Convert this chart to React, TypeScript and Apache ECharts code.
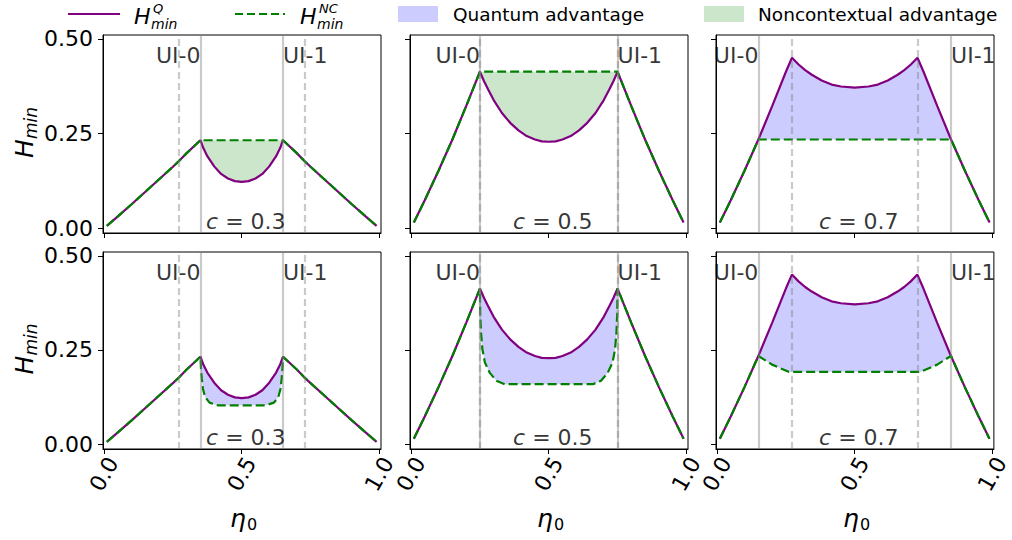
import { useEffect, useRef } from 'react';
import * as echarts from 'echarts';

// ---- data ----
const cText = ['0.3', '0.5', '0.7'];
const xTicks = [0, 0.5, 1];
const yTicks = [0, 0.25, 0.5];

// quantum curves H^Q_min (same in both rows)
const qEta03 = [0.01, 0.05, 0.1, 0.15, 0.2, 0.25, 0.272, 0.3, 0.35, 0.36, 0.375, 0.4, 0.425, 0.45, 0.475, 0.5, 0.525, 0.55, 0.575, 0.6, 0.625, 0.64, 0.65, 0.7, 0.728, 0.75, 0.8, 0.85, 0.9, 0.95, 0.99];
const qH03 = [0.006, 0.031, 0.063, 0.096, 0.129, 0.162, 0.177, 0.198, 0.232, 0.212, 0.19, 0.163, 0.143, 0.131, 0.124, 0.122, 0.124, 0.131, 0.143, 0.163, 0.19, 0.212, 0.232, 0.198, 0.177, 0.162, 0.129, 0.096, 0.063, 0.031, 0.006];
const qEta05 = [0.01, 0.05, 0.1, 0.15, 0.2, 0.25, 0.265, 0.28, 0.3, 0.33, 0.36, 0.39, 0.42, 0.45, 0.475, 0.5, 0.525, 0.55, 0.58, 0.61, 0.64, 0.67, 0.7, 0.72, 0.735, 0.75, 0.8, 0.85, 0.9, 0.95, 0.99];
const qH05 = [0.0145, 0.074, 0.152, 0.234, 0.322, 0.413, 0.388, 0.366, 0.338, 0.304, 0.278, 0.258, 0.243, 0.234, 0.229, 0.228, 0.229, 0.234, 0.243, 0.258, 0.278, 0.304, 0.338, 0.366, 0.388, 0.413, 0.322, 0.234, 0.152, 0.074, 0.0145];
const qEta07 = [0.01, 0.05, 0.1, 0.15, 0.2, 0.25, 0.272, 0.296, 0.32, 0.344, 0.38, 0.416, 0.45, 0.5, 0.55, 0.584, 0.62, 0.656, 0.68, 0.704, 0.728, 0.75, 0.8, 0.85, 0.9, 0.95, 0.99];
const qH07 = [0.0145, 0.074, 0.152, 0.234, 0.322, 0.413, 0.45, 0.432, 0.417, 0.405, 0.39, 0.379, 0.374, 0.371, 0.374, 0.379, 0.39, 0.405, 0.417, 0.432, 0.45, 0.413, 0.322, 0.234, 0.152, 0.074, 0.0145];

// noncontextual curves H^NC_min, top row
const ncTopEta03 = [0.01, 0.05, 0.1, 0.15, 0.2, 0.25, 0.272, 0.3, 0.35, 0.65, 0.7, 0.728, 0.75, 0.8, 0.85, 0.9, 0.95, 0.99];
const ncTopH03 = [0.006, 0.031, 0.063, 0.096, 0.129, 0.162, 0.177, 0.198, 0.232, 0.232, 0.198, 0.177, 0.162, 0.129, 0.096, 0.063, 0.031, 0.006];
const ncTopEta05 = [0.01, 0.05, 0.1, 0.15, 0.2, 0.25, 0.75, 0.8, 0.85, 0.9, 0.95, 0.99];
const ncTopH05 = [0.0145, 0.074, 0.152, 0.234, 0.322, 0.413, 0.413, 0.322, 0.234, 0.152, 0.074, 0.0145];
const ncTopEta07 = [0.01, 0.05, 0.1, 0.15, 0.85, 0.9, 0.95, 0.99];
const ncTopH07 = [0.0145, 0.074, 0.152, 0.234, 0.234, 0.152, 0.074, 0.0145];

// noncontextual curves H^NC_min, bottom row
const ncBotEta03 = [0.01, 0.05, 0.1, 0.15, 0.2, 0.25, 0.272, 0.3, 0.35, 0.352, 0.355, 0.359, 0.367, 0.383, 0.413, 0.587, 0.617, 0.633, 0.641, 0.645, 0.648, 0.65, 0.7, 0.728, 0.75, 0.8, 0.85, 0.9, 0.95, 0.99];
const ncBotH03 = [0.006, 0.031, 0.063, 0.096, 0.129, 0.162, 0.177, 0.198, 0.232, 0.2, 0.173, 0.147, 0.125, 0.11, 0.103, 0.103, 0.11, 0.125, 0.147, 0.173, 0.2, 0.232, 0.198, 0.177, 0.162, 0.129, 0.096, 0.063, 0.031, 0.006];
const ncBotEta05 = [0.01, 0.05, 0.1, 0.15, 0.2, 0.25, 0.251, 0.254, 0.259, 0.268, 0.286, 0.31, 0.34, 0.66, 0.69, 0.714, 0.732, 0.741, 0.746, 0.749, 0.75, 0.8, 0.85, 0.9, 0.95, 0.99];
const ncBotH05 = [0.0145, 0.074, 0.152, 0.234, 0.322, 0.413, 0.348, 0.296, 0.252, 0.217, 0.189, 0.168, 0.159, 0.159, 0.168, 0.189, 0.217, 0.252, 0.296, 0.348, 0.413, 0.322, 0.234, 0.152, 0.074, 0.0145];
const ncBotEta07 = [0.01, 0.05, 0.1, 0.15, 0.2, 0.26, 0.74, 0.8, 0.85, 0.9, 0.95, 0.99];
const ncBotH07 = [0.0145, 0.074, 0.152, 0.234, 0.211, 0.192, 0.192, 0.211, 0.234, 0.152, 0.074, 0.0145];

// UI reference lines and fill kinds
const solidUI = [[0.35, 0.65], [0.25, 0.75], [0.15, 0.85]];
const dashedUI = [[0.272, 0.728], [0.25, 0.75], [0.272, 0.728]];
const topFillKind = ['nc', 'nc', 'q'];
const bottomFillKind = ['q', 'q', 'q'];

// ---- styles / layout ----
const FONT = 'DejaVu Sans';
const PURPLE = '#800080';
const GREEN = '#008000';
const QFILL = '#ccccff';
const NCFILL = '#cce6cc';
const VLINE = 'rgba(128,128,128,0.42)';
const colLeft = [103, 410, 716];
const colWidth = 278;
const rowTop = [35, 252];
const rowHeight = [198, 197];
const X_MIN = -0.004, X_MAX = 1.006, Y_MIN = -0.013, Y_MAX = 0.51;
const TICK_FS = 22;
const TEXT_FS = 22;

const zip = (xs: number[], ys: number[]) => xs.map((x, i) => [x, ys[i]]);

export default function App() {
  const ref = useRef<HTMLDivElement>(null);
  useEffect(() => {
    const chart = echarts.init(ref.current as HTMLDivElement, null, { renderer: 'svg' });
    const qCurves = [zip(qEta03, qH03), zip(qEta05, qH05), zip(qEta07, qH07)];
    const ncCurves = [
      [zip(ncTopEta03, ncTopH03), zip(ncTopEta05, ncTopH05), zip(ncTopEta07, ncTopH07)],
      [zip(ncBotEta03, ncBotH03), zip(ncBotEta05, ncBotH05), zip(ncBotEta07, ncBotH07)],
    ];
    const fillKinds = [topFillKind, bottomFillKind];

    const grids: any[] = [];
    const xAxes: any[] = [];
    const yAxes: any[] = [];
    const series: any[] = [];

    for (let r = 0; r < 2; r++) {
      for (let c = 0; c < 3; c++) {
        const idx = r * 3 + c;
        grids.push({
          left: colLeft[c], top: rowTop[r], width: colWidth, height: rowHeight[r],
          show: true, borderColor: '#000', borderWidth: 1, backgroundColor: 'transparent',
        });
        xAxes.push({
          type: 'value', gridIndex: idx, min: X_MIN, max: X_MAX,
          axisLine: { show: true, onZero: false, lineStyle: { color: '#000', width: 1 } },
          axisTick: { show: true, inside: false, length: 5, customValues: xTicks, lineStyle: { color: '#000', width: 1 } },
          axisLabel: {
            show: r === 1, customValues: xTicks, rotate: 60, align: 'center', verticalAlign: 'middle',
            margin: 25, fontSize: TICK_FS, fontFamily: FONT, color: '#000',
            formatter: (v: number) => v.toFixed(1),
          },
          splitLine: { show: false },
        });
        yAxes.push({
          type: 'value', gridIndex: idx, min: Y_MIN, max: Y_MAX,
          axisLine: { show: true, onZero: false, lineStyle: { color: '#000', width: 1 } },
          axisTick: { show: true, inside: false, length: 5, customValues: yTicks, lineStyle: { color: '#000', width: 1 } },
          axisLabel: {
            show: c === 0, customValues: yTicks, margin: 10, fontSize: TICK_FS, fontFamily: FONT, color: '#000',
            formatter: (v: number) => v.toFixed(2),
          },
          splitLine: { show: false },
        });

        // vertical UI lines
        series.push({
          type: 'line', xAxisIndex: idx, yAxisIndex: idx, z: 1, silent: true,
          data: [[0.5, 0.2]], symbol: 'none', lineStyle: { opacity: 0 },
          markLine: {
            silent: true, symbol: ['none', 'none'], label: { show: false },
            lineStyle: { color: VLINE, width: 2.2, type: 'solid' },
            data: [
              ...solidUI[c].map((v) => ({ xAxis: v, lineStyle: { color: VLINE, width: 2.2, type: 'solid' } })),
              ...dashedUI[c].map((v) => ({ xAxis: v, lineStyle: { color: VLINE, width: 2.2, type: [7, 4] } })),
            ],
          },
        });

        // fill between curves
        const lo = solidUI[c][0] - 1e-6, hi = solidUI[c][1] + 1e-6;
        const qSeg = qCurves[c].filter((p) => p[0] >= lo && p[0] <= hi);
        const ncSeg = ncCurves[r][c].filter((p) => p[0] >= lo && p[0] <= hi);
        const kind = fillKinds[r][c];
        const upper = kind === 'q' ? qSeg : ncSeg;
        const lower = kind === 'q' ? ncSeg : qSeg;
        const fillColor = kind === 'q' ? QFILL : NCFILL;
        series.push({
          type: 'custom', xAxisIndex: idx, yAxisIndex: idx, z: 2, silent: true,
          data: [[0.5, 0.2]],
          renderItem: (_p: any, api: any) => {
            const pts = upper.map((p) => api.coord(p)).concat(lower.slice().reverse().map((p) => api.coord(p)));
            return { type: 'polygon', shape: { points: pts }, style: { fill: fillColor } };
          },
        });

        series.push({
          type: 'line', xAxisIndex: idx, yAxisIndex: idx, z: 3, silent: true,
          data: qCurves[c], symbol: 'none', lineStyle: { color: PURPLE, width: 2.2 },
        });
        series.push({
          type: 'line', xAxisIndex: idx, yAxisIndex: idx, z: 4, silent: true,
          data: ncCurves[r][c], symbol: 'none', lineStyle: { color: GREEN, width: 2.2, type: [9, 4] },
        });

        // text labels
        series.push({
          type: 'scatter', xAxisIndex: idx, yAxisIndex: idx, z: 5, silent: true, symbolSize: 0,
          itemStyle: { color: 'transparent' },
          label: { show: true, distance: 0, fontSize: TEXT_FS, fontFamily: FONT, color: '#000' },
          data: [
            { value: [solidUI[c][0], 0.456], label: { position: 'left', formatter: 'UI-0' } },
            { value: [solidUI[c][1], 0.456], label: { position: 'right', formatter: 'UI-1' } },
            {
              value: [0.515, 0.018],
              label: {
                position: 'inside', formatter: '{i|c} = ' + cText[c],
                rich: { i: { fontStyle: 'italic', fontSize: TEXT_FS, fontFamily: FONT, color: '#000' } },
              },
            },
          ],
        });
      }
    }

    const txt = (x: number, y: number, text: string, size: number, italic: boolean, align = 'left') => ({
      type: 'text', x, y, silent: true,
      style: {
        text, fontSize: size, fontFamily: FONT, fontStyle: italic ? 'italic' : 'normal', fill: '#000',
        align, verticalAlign: 'middle',
      },
    });

    const graphics: any[] = [
      // legend
      { type: 'line', silent: true, shape: { x1: 68, y1: 14, x2: 120, y2: 14 }, style: { stroke: PURPLE, lineWidth: 2.2 } },
      txt(134, 16, 'H', 22, true),
      txt(153, 8.5, 'Q', 13, true),
      txt(151, 24, 'min', 14, true),
      { type: 'line', silent: true, shape: { x1: 235, y1: 14, x2: 285, y2: 14 }, style: { stroke: GREEN, lineWidth: 2.2, lineDash: [8, 4] } },
      txt(300, 16, 'H', 22, true),
      txt(319, 8.5, 'NC', 13, true),
      txt(317, 24, 'min', 14, true),
      { type: 'rect', silent: true, shape: { x: 398, y: 6, width: 40, height: 16 }, style: { fill: QFILL } },
      txt(453, 14, 'Quantum advantage', 18.5, false),
      { type: 'rect', silent: true, shape: { x: 704, y: 6, width: 40, height: 16 }, style: { fill: NCFILL } },
      txt(758, 14, 'Noncontextual advantage', 18.5, false),
    ];
    // y-axis titles
    for (let r = 0; r < 2; r++) {
      graphics.push({
        type: 'group', x: 24, y: rowTop[r] + rowHeight[r] / 2 - 2, rotation: Math.PI / 2, silent: true,
        children: [txt(-26, 0, 'H', 25, true), txt(-7, 7, 'min', 17, true)],
      });
    }
    // x-axis titles
    for (let c = 0; c < 3; c++) {
      const cx = colLeft[c] + colWidth / 2;
      graphics.push(txt(cx - 4, 518, 'η', 25, true, 'center'));
      graphics.push(txt(cx + 10, 524, '0', 16, false, 'center'));
    }

    chart.setOption({
      animation: false,
      backgroundColor: '#fff',
      grid: grids,
      xAxis: xAxes,
      yAxis: yAxes,
      series,
      graphic: { elements: graphics },
    });
    return () => chart.dispose();
  }, []);
  return <div ref={ref} style={{ position: 'absolute', left: 0, top: 0, width: 1012, height: 540 }} />;
}
